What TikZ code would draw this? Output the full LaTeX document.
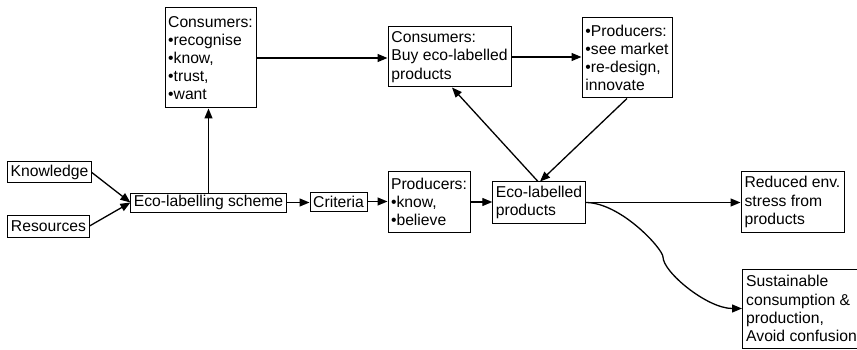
\documentclass[tikz,border=0pt]{standalone}
\usepackage{fontspec}
\setmainfont{Liberation Sans}
\usetikzlibrary{arrows.meta}
\begin{document}
\begin{tikzpicture}[x=1pt,y=-1pt,
  box/.style={draw=black, line width=1pt, fill=white, align=left, inner xsep=3pt, inner ysep=0pt,
    font=\fontsize{15.7}{18.2}\selectfont, anchor=center},
  arr/.style={line width=1.3pt, -{Triangle[length=10pt,width=8pt]}}]
\useasboundingbox (0,0) rectangle (857,350);
\fill[white] (0,0) rectangle (857,350);
\node[box, minimum width=83pt, minimum height=21pt] (know) at (49.5,172.5) {Knowledge};
\node[box, minimum width=81pt, minimum height=22pt] (res) at (48.5,226) {Resources};
\node[box, minimum width=155pt, minimum height=19pt] (scheme) at (208.5,202.5) {Eco-labelling scheme};
\node[box, minimum width=57pt, minimum height=19pt] (crit) at (338.5,201.5) {Criteria};
\node[box, minimum width=91pt, minimum height=100pt] (cons) at (210.5,58) {Consumers:\\•recognise\\•know,\\•trust,\\•want};
\node[box, minimum width=123pt, minimum height=60pt] (buy) at (449.5,57) {Consumers:\\Buy eco-labelled\\products};
\node[box, minimum width=90pt, minimum height=80pt] (prodb) at (627,58) {•Producers:\\•see market\\•re-design,\\innovate};
\node[box, minimum width=82pt, minimum height=60pt] (proda) at (429,202) {Producers:\\•know,\\•believe};
\node[box, minimum width=92pt, minimum height=41pt] (eco) at (539,202.5) {Eco-labelled\\products};
\node[box, minimum width=103pt, minimum height=60pt] (red) at (792.5,202) {Reduced env.\\stress from\\products};
\node[box, minimum width=118pt, minimum height=79pt, anchor=west] (sust) at (742,308.5) {Sustainable\\consumption \&\\production,\\Avoid confusion};
\coordinate (bend) at (663,257);
\draw[arr] (know.east) -- (scheme.west);
\draw[arr] (res.east) -- (scheme.west);
\draw[arr] (scheme.north) -- (scheme.north |- cons.south);
\draw[arr] (scheme.east) -- (crit.west |- scheme.east);
\draw[arr] (crit.east) -- (proda.west |- crit.east);
\draw[arr] (proda.east) -- (eco.west |- proda.east);
\draw[arr] (cons.east) -- (buy.west |- cons.east);
\draw[arr] (buy.east) -- (prodb.west |- buy.east);
\draw[arr] (prodb.south) -- ([xshift=1pt]eco.north);
\draw[arr] ([xshift=-1pt]eco.north) -- ([xshift=2.5pt]buy.south);
\draw[arr] (eco.east) -- (red.west |- eco.east);
\draw[arr] (eco.east) .. controls +(35,0) and +(0,-8) .. (bend) .. controls +(0,15) and +(-35,0) .. (sust.west);
\end{tikzpicture}
\end{document}
